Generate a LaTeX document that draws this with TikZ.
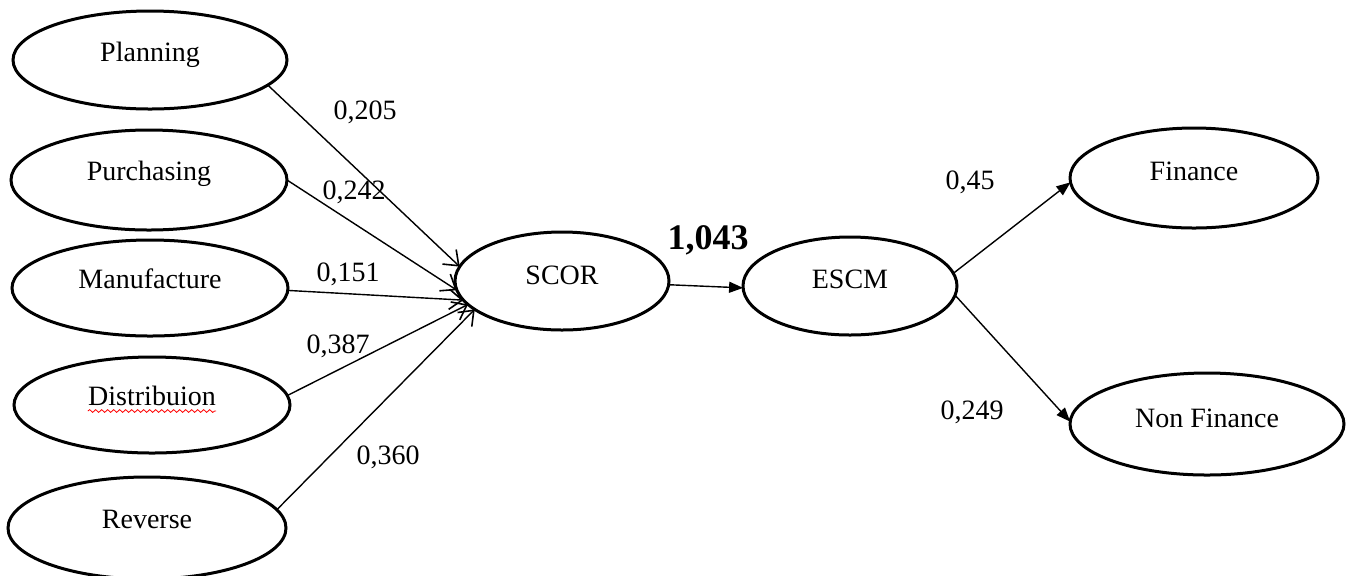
\documentclass[tikz,border=0pt]{standalone}
\usepackage{fontspec}
\setmainfont{Liberation Serif}
\usetikzlibrary{shapes.geometric,arrows.meta,decorations.pathmorphing}
\begin{document}
\begin{tikzpicture}[x=0.5pt,y=-0.5pt,
  oval/.style={ellipse,draw,line width=1.5pt,inner sep=0pt,outer sep=0pt},
  txt/.style={font=\fontsize{14}{16}\selectfont,anchor=base,inner sep=0pt},
  coef/.style={font=\fontsize{14}{16}\selectfont,anchor=base,inner sep=0pt},
  bigcoef/.style={font=\fontsize{18}{20}\selectfont\bfseries,anchor=base,inner sep=0pt},
  openarr/.style={line width=0.7pt,-{Straight Barb[length=6.5pt,width=10pt,line width=0.8pt]}},
  fillarr/.style={line width=0.7pt,-{Triangle[length=7pt,width=5.5pt]}},
  squiggle/.style={red,line width=0.4pt,decorate,decoration={snake,amplitude=0.7pt,segment length=3pt}}
]
\useasboundingbox (0,0) rectangle (1349,575);
% left ellipses
\node[oval,minimum width=137pt,minimum height=49pt] (plan) at (150,60) {};
\node[txt] (plant) at ([yshift=-0.5pt]plan.center) {Planning};
\node[oval,minimum width=138pt,minimum height=50pt] (purch) at (149,180) {};
\node[txt] (purcht) at (purch.center) {Purchasing};
\node[oval,minimum width=138pt,minimum height=48pt] (manu) at (150,288) {};
\node[txt] (manut) at (manu.center) {Manufacture};
\node[oval,minimum width=138pt,minimum height=48pt] (dist) at (152,405) {};
\node[txt] (distt) at (dist.center) {Distribuion};
\node[oval,minimum width=139pt,minimum height=51pt] (rev) at (147,528) {};
\node[txt] (revt) at (rev.center) {Reverse};
% middle
\node[oval,minimum width=107pt,minimum height=49pt] (scor) at (562,281) {};
\node[txt] (scort) at ([yshift=-1.5pt]scor.center) {SCOR};
\node[oval,minimum width=107pt,minimum height=49pt] (escm) at (850,286) {};
\node[txt] (escmt) at ([yshift=-1pt]escm.center) {ESCM};
% right
\node[oval,minimum width=124pt,minimum height=50pt] (fin) at (1194,178) {};
\node[txt] (fint) at ([yshift=-1pt]fin.center) {Finance};
\node[oval,minimum width=137pt,minimum height=51pt] (nfin) at (1207,424) {};
\node[txt] (nfint) at ([yshift=-1.5pt]nfin.center) {Non Finance};
% spelling mark
\draw[squiggle] ([yshift=-3pt]distt.base west) -- ([yshift=-3pt]distt.base east);
% connectors
\draw[openarr] (plan.-12) -- (scor.172);
\draw[openarr] (purch.0) -- (scor.185);
\draw[openarr] (manu.-1) -- (scor.191);
\draw[openarr] (dist.4) -- (scor.194);
\draw[openarr] (rev.8) -- (scor.198);
\draw[fillarr] (scor.-2) -- (escm.181);
\draw[fillarr] (escm.7) -- (fin.182);
\draw[fillarr] (escm.-5) -- (nfin.179);
% coefficients
\node[coef] (c1) at (365,119) {0,205};
\node[coef] (c2) at (354,199) {0,242};
\node[coef] (c3) at (348,281) {0,151};
\node[coef] (c4) at (338,353) {0,387};
\node[coef] (c5) at (388,464) {0,360};
\node[bigcoef] (c6) at (708,249) {1,043};
\node[coef] (c7) at (970,189) {0,45};
\node[coef] (c8) at (972,419) {0,249};
\end{tikzpicture}
\end{document}
